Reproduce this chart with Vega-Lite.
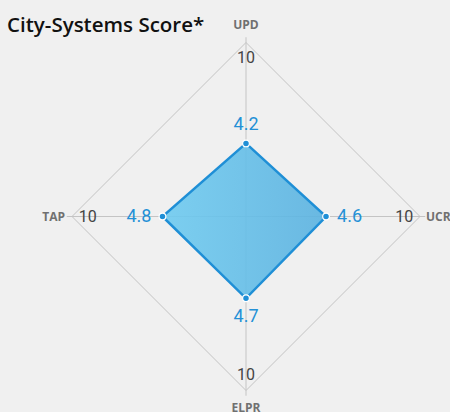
{
  "$schema": "https://vega.github.io/schema/vega-lite/v6.json",
  "width": 348,
  "height": 348,
  "autosize": {"type": "none"},
  "padding": {"left": 72, "top": 42.5, "right": 30, "bottom": 21.5},
  "background": "#f0f0f0",
  "title": {"text": "City-Systems Score*", "anchor": "start", "frame": "group", "dx": -65, "dy": 24, "offset": 7, "font": "Open Sans", "fontSize": 20.5, "fontWeight": 600, "color": "#111111"},
  "config": {"view": {"stroke": null}},
  "data": {"values": [
    {"axis": "UPD", "value": 4.2, "order": 0, "max": 10},
    {"axis": "UCR", "value": 4.6, "order": 1, "max": 10},
    {"axis": "ELPR", "value": 4.7, "order": 2, "max": 10},
    {"axis": "TAP", "value": 4.8, "order": 3, "max": 10}
  ]},
  "transform": [
    {"calculate": "datum.order * PI / 2", "as": "a"},
    {"calculate": "0", "as": "c0"},
    {"calculate": "datum.value * sin(datum.a)", "as": "px"},
    {"calculate": "datum.value * cos(datum.a)", "as": "py"},
    {"calculate": "datum.max * sin(datum.a)", "as": "gx"},
    {"calculate": "datum.max * cos(datum.a)", "as": "gy"},
    {"calculate": "(datum.max + 0.3) * sin(datum.a)", "as": "sx"},
    {"calculate": "(datum.max + 0.3) * cos(datum.a)", "as": "sy"},
    {"calculate": "(datum.value + 1.35) * sin(datum.a)", "as": "lx"},
    {"calculate": "(datum.value + 1.05) * cos(datum.a)", "as": "ly"},
    {"calculate": "(datum.max - 0.9) * sin(datum.a)", "as": "tx"},
    {"calculate": "(datum.max - 0.9) * cos(datum.a)", "as": "ty"},
    {"calculate": "(datum.max + 1.05) * sin(datum.a)", "as": "nx"},
    {"calculate": "(datum.max + 1.0) * cos(datum.a)", "as": "ny"}
  ],
  "layer": [
    {
      "mark": {"type": "line", "interpolate": "linear-closed", "stroke": "#c4c4c4", "strokeWidth": 1},
      "encoding": {
        "x": {"field": "gx", "type": "quantitative", "scale": {"domain": [-10, 10], "nice": false, "zero": false}, "axis": null},
        "y": {"field": "gy", "type": "quantitative", "scale": {"domain": [-10, 10], "nice": false, "zero": false}, "axis": null},
        "order": {"field": "order", "type": "quantitative"}
      }
    },
    {
      "mark": {"type": "rule", "stroke": "#c4c4c4", "strokeWidth": 1},
      "encoding": {
        "x": {"field": "c0", "type": "quantitative"},
        "y": {"field": "c0", "type": "quantitative"},
        "x2": {"field": "sx"},
        "y2": {"field": "sy"}
      }
    },
    {
      "mark": {
        "type": "line",
        "interpolate": "linear-closed",
        "stroke": "#1f8fd6",
        "strokeWidth": 2.5,
        "strokeJoin": "miter",
        "fillOpacity": 0.9,
        "fill": {"gradient": "linear", "x1": 0, "y1": 0, "x2": 1, "y2": 0, "stops": [{"offset": 0, "color": "#6fcbf0"}, {"offset": 1, "color": "#5bb2e0"}]}
      },
      "encoding": {
        "x": {"field": "px", "type": "quantitative"},
        "y": {"field": "py", "type": "quantitative"},
        "order": {"field": "order", "type": "quantitative"}
      }
    },
    {
      "mark": {"type": "point", "filled": true, "fill": "#1f8fd6", "stroke": "#ffffff", "strokeWidth": 1.2, "size": 45, "opacity": 1},
      "encoding": {
        "x": {"field": "px", "type": "quantitative"},
        "y": {"field": "py", "type": "quantitative"}
      }
    },
    {
      "mark": {"type": "text", "font": "Roboto", "fontSize": 18, "color": "#2490d6", "align": "center", "baseline": "middle"},
      "encoding": {
        "x": {"field": "lx", "type": "quantitative"},
        "y": {"field": "ly", "type": "quantitative"},
        "text": {"field": "value", "type": "quantitative", "format": ".1f"}
      }
    },
    {
      "mark": {"type": "text", "font": "Roboto", "fontSize": 16, "color": "#444444", "align": "center", "baseline": "middle"},
      "encoding": {
        "x": {"field": "tx", "type": "quantitative"},
        "y": {"field": "ty", "type": "quantitative"},
        "text": {"field": "max", "type": "quantitative"}
      }
    },
    {
      "mark": {"type": "text", "font": "Open Sans", "fontSize": 12, "fontWeight": "bold", "color": "#707070", "align": "center", "baseline": "middle"},
      "encoding": {
        "x": {"field": "nx", "type": "quantitative"},
        "y": {"field": "ny", "type": "quantitative"},
        "text": {"field": "axis", "type": "nominal"}
      }
    }
  ]
}
